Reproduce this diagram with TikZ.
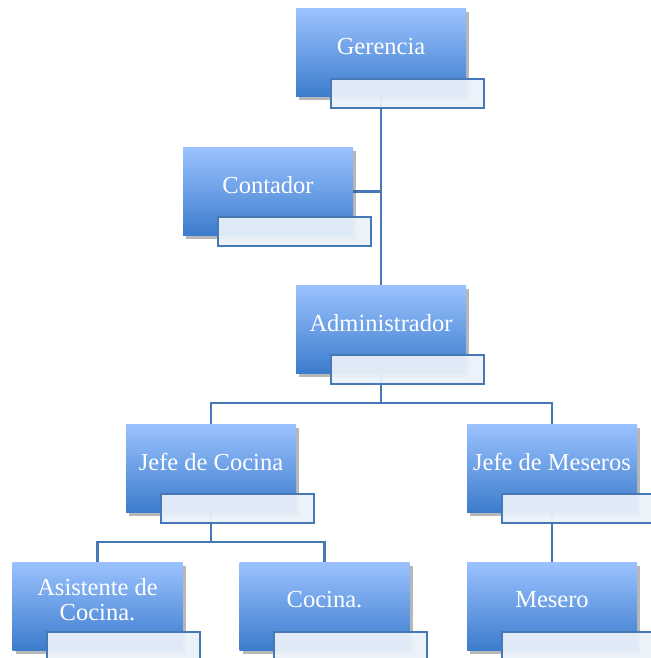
\documentclass[tikz,border=0pt]{standalone}
\usepackage{fontspec}
\setmainfont{Liberation Serif}
\usetikzlibrary{shadows,backgrounds}
\definecolor{topblue}{RGB}{155,194,255}
\definecolor{botblue}{RGB}{60,124,204}
\definecolor{linec}{RGB}{70,120,182}
\definecolor{subfill}{RGB}{234,241,250}
\tikzset{
  mainbox/.style={rectangle, minimum width=170pt, minimum height=88pt, inner sep=0pt,
    top color=topblue, bottom color=botblue, draw=none,
    drop shadow={shadow xshift=3pt, shadow yshift=-3.5pt, opacity=0.4, fill=black!70}},
  subbox/.style={rectangle, anchor=north west, minimum width=153pt, minimum height=29pt, inner sep=0pt,
    draw=linec, line width=2pt, fill=subfill, fill opacity=0.94},
  lbl/.style={text=white, font=\fontsize{24.5}{25}\selectfont, align=center, inner sep=0pt},
  conn/.style={draw=linec, line width=2.2pt}
}
\newcommand{\orgbox}[4]{%
  \node[mainbox] (#1) at (#2) {};
  \node[lbl] (#1t) at ([yshift=6pt]#1.center) {#3};
  \node[subbox] (#1s) at ([xshift=34pt,yshift=-69pt]#1.north west) {};
}
\begin{document}
\begin{tikzpicture}[x=1pt,y=-1pt]
\useasboundingbox (0,0) rectangle (650,658);
\orgbox{ger}{381,53}{Gerencia}{}
\orgbox{con}{268,191.5}{Contador}{}
\orgbox{adm}{381,329}{Administrador}{}
\orgbox{jc}{211,468}{Jefe de Cocina}{}
\orgbox{jm}{552,468}{Jefe de Meseros}{}
\orgbox{asi}{97.5,606}{Asistente de\\Cocina.}{}
\orgbox{coc}{324.5,606}{Cocina.}{}
\orgbox{mes}{552,606}{Mesero}{}
\coordinate (b1) at (0,403);
\coordinate (b2) at (0,542);
\begin{scope}[on background layer]
\draw[conn] (ger.center) -- (adm.center);
\draw[conn] (con.center) -- (con.center -| ger.center);
\draw[conn] (adm.center) -- (adm.center |- b1) -| (jc.center);
\draw[conn] (adm.center |- b1) -| (jm.center);
\draw[conn] (jc.center) -- (jc.center |- b2) -| (asi.center);
\draw[conn] (jc.center |- b2) -| (coc.center);
\draw[conn] (jm.center) -- (mes.center);
\end{scope}
\end{tikzpicture}
\end{document}
